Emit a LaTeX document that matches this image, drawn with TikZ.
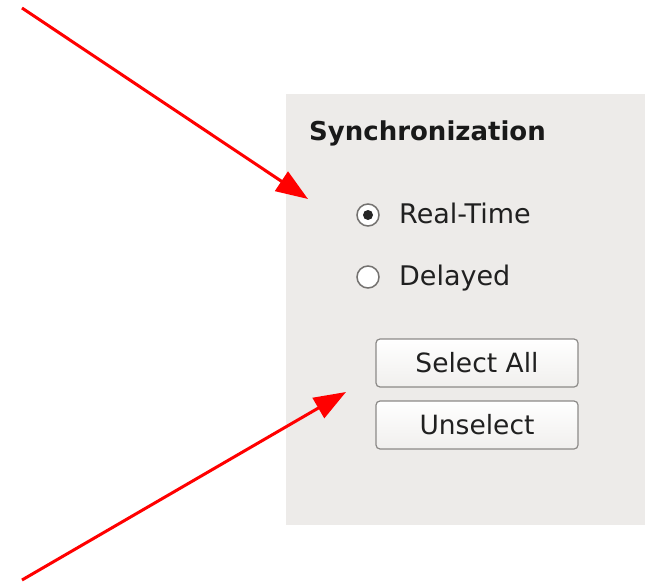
\documentclass[tikz,border=0pt]{standalone}
\usepackage{fontspec}
\setmainfont{DejaVu Sans}
\usetikzlibrary{arrows.meta}
\definecolor{panelbg}{HTML}{EDEBE9}
\definecolor{btnborder}{HTML}{8C8A88}
\definecolor{radioborder}{HTML}{747270}
\definecolor{txt}{HTML}{202020}
\tikzset{
  pointer/.style={draw=red, line width=3pt, -{Triangle[length=32pt,width=23pt]}},
  btn/.style={draw=btnborder, line width=1.2pt, rounded corners=4pt, minimum width=202pt, minimum height=48pt,
    top color=white, bottom color=panelbg!80!white, text=txt, font=\fontsize{26.5}{30}\selectfont, inner sep=0pt},
  radio/.style={circle, draw=radioborder, line width=1.5pt, fill=white, minimum size=22pt, inner sep=0pt},
  lbl/.style={anchor=base west, text=txt, font=\fontsize{27}{30}\selectfont, inner sep=0pt},
}
\begin{document}
\begin{tikzpicture}[x=1pt,y=-1pt]
\useasboundingbox (0,0) rectangle (645,583);
\node[fill=panelbg, minimum width=359pt, minimum height=431pt, anchor=north west, inner sep=0pt] (panel) at (286,94) {};
\node[anchor=base west, inner sep=0pt, font=\bfseries\fontsize{26}{30}\selectfont, text=black!90] (title) at (309,141) {Synchronization};
\node[radio] (r1) at (368,215) {};
\fill[black!85] (r1.center) circle (5pt);
\node[lbl] (t1) at (399,223) {Real-Time};
\node[radio] (r2) at (368,277) {};
\node[lbl] (t2) at (399,285) {Delayed};
\node[btn] (b1) at (477,363) {Select All};
\node[btn] (b2) at (477,425) {Unselect};
\coordinate (s1) at (22,8);
\coordinate (e1) at (308,199);
\coordinate (s2) at (22,580);
\coordinate (e2) at (346,392);
\draw[pointer] (s1) -- (e1);
\draw[pointer] (s2) -- (e2);
\end{tikzpicture}
\end{document}
